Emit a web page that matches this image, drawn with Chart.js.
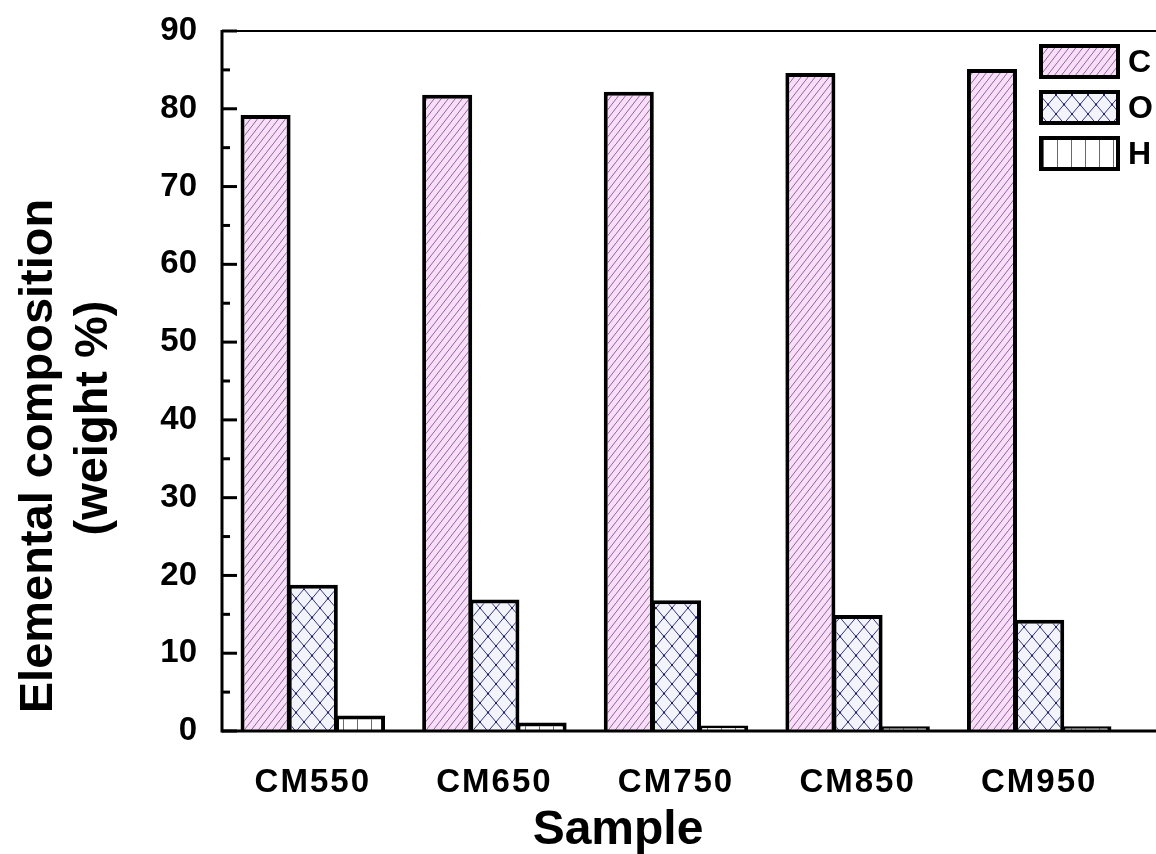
<!DOCTYPE html>
<html>
<head>
<title>Elemental composition</title>
<script src="https://cdn.jsdelivr.net/npm/chart.js"></script>
<style>
  body { margin: 0; background: #fff; overflow: hidden; }
</style>
</head>
<body>
<canvas id="compChart" width="1156" height="854"></canvas>
<script>
var samples = ['CM550', 'CM650', 'CM750', 'CM850', 'CM950'];
var carbon = [79.2, 81.8, 82.2, 84.6, 85.1];
var oxygen = [18.8, 16.9, 16.8, 14.9, 14.3];
var hydrogen = [2.0, 1.1, 0.7, 0.6, 0.6];
var yMin = 0, yMax = 90, yStep = 5;
var yTitle = ['Elemental composition', '(weight %)'];
var xTitle = 'Sample';

var FONT = "'Liberation Sans', Arial, sans-serif";

// fill patterns for the three elements
function makePattern(w, h, draw) {
  var c = document.createElement('canvas');
  c.width = w; c.height = h;
  var g = c.getContext('2d');
  draw(g, w, h);
  return document.getElementById('compChart').getContext('2d').createPattern(c, 'repeat');
}

var hatchC = makePattern(7, 9, function (g, w, h) {
  g.fillStyle = '#f8dff8';
  g.fillRect(0, 0, w, h);
  g.strokeStyle = '#9a5ea2';
  g.lineWidth = 1;
  g.beginPath();
  g.moveTo(-w, 2 * h); g.lineTo(2 * w, -h);
  g.moveTo(-2 * w, 2 * h); g.lineTo(w, -h);
  g.moveTo(0, 3 * h); g.lineTo(3 * w, 0);
  g.stroke();
});

var hatchO = makePattern(16, 19, function (g, w, h) {
  g.fillStyle = '#f3f3fb';
  g.fillRect(0, 0, w, h);
  g.strokeStyle = '#34347e';
  g.lineWidth = 1;
  g.beginPath();
  g.moveTo(0, 0); g.lineTo(w, h);
  g.moveTo(0, h); g.lineTo(w, 0);
  g.stroke();
  g.fillStyle = '#1e1e70';
  g.fillRect(w / 2 - 1, h / 2 - 1, 2, 2);
  g.fillRect(0, 0, 1, 1); g.fillRect(w - 1, 0, 1, 1);
  g.fillRect(0, h - 1, 1, 1); g.fillRect(w - 1, h - 1, 1, 1);
});

var hatchH = makePattern(14, 2, function (g, w, h) {
  g.fillStyle = '#ffffff';
  g.fillRect(0, 0, w, h);
  g.fillStyle = '#c4424a';
  g.fillRect(7, 0, 1, h);
});

// x labels are drawn after the bars (z: 1), with a little tracking
var tracking = {
  id: 'tracking',
  beforeDraw: function (chart) { chart.ctx.letterSpacing = '0px'; },
  afterDatasetsDraw: function (chart) { chart.ctx.letterSpacing = '2px'; }
};

// axis lines with inward ticks, frame lines running to the edge, titles, legend
var frame = {
  id: 'frame',
  afterDraw: function (chart) {
    var ctx = chart.ctx, a = chart.chartArea, y = chart.scales.y;
    ctx.save();
    ctx.letterSpacing = '0px';
    ctx.strokeStyle = '#000';
    ctx.lineWidth = 3;
    ctx.beginPath();
    ctx.moveTo(a.left, a.top - 1);
    ctx.lineTo(a.left, a.bottom + 1.5);
    ctx.stroke();
    ctx.beginPath();
    ctx.moveTo(a.left, a.bottom);
    ctx.lineTo(chart.width, a.bottom);
    ctx.stroke();
    y.ticks.forEach(function (t) {
      var py = y.getPixelForValue(t.value);
      var len = t.value % 10 === 0 ? 15 : 8;
      ctx.beginPath();
      ctx.moveTo(a.left, py);
      ctx.lineTo(a.left + len, py);
      ctx.stroke();
    });
    ctx.lineWidth = 2;
    ctx.beginPath();
    ctx.moveTo(a.left - 1, a.top);
    ctx.lineTo(chart.width, a.top);
    ctx.stroke();

    ctx.fillStyle = '#000';
    ctx.font = 'bold 47px ' + FONT;
    ctx.textAlign = 'center';
    ctx.textBaseline = 'alphabetic';
    ctx.save();
    ctx.translate(52, 456);
    ctx.rotate(-Math.PI / 2);
    ctx.fillText(yTitle[0], 0, 0);
    ctx.restore();
    ctx.save();
    ctx.translate(107, 418);
    ctx.rotate(-Math.PI / 2);
    ctx.fillText(yTitle[1], 0, 0);
    ctx.restore();

    ctx.font = 'bold 48px ' + FONT;
    ctx.textBaseline = 'middle';
    ctx.fillText(xTitle, 618, 831);

    ctx.font = 'bold 32px ' + FONT;
    ctx.textAlign = 'left';
    chart.data.datasets.forEach(function (ds, i) {
      var bx = a.right - 89, by = a.top + 15 + i * 46;
      ctx.fillStyle = ds.backgroundColor;
      ctx.fillRect(bx, by, 77, 31);
      ctx.lineWidth = 4;
      ctx.strokeRect(bx, by, 77, 31);
      ctx.fillStyle = '#000';
      ctx.fillText(ds.label, bx + 87, by + 17);
    });
    ctx.restore();
  }
};

new Chart(document.getElementById('compChart'), {
  type: 'bar',
  data: {
    labels: samples,
    datasets: [
      { label: 'C', data: carbon, backgroundColor: hatchC },
      { label: 'O', data: oxygen, backgroundColor: hatchO },
      { label: 'H', data: hydrogen, backgroundColor: hatchH }
    ]
  },
  options: {
    responsive: false,
    animation: false,
    events: [],
    layout: { padding: { top: 31, right: 26, left: 0, bottom: 0 } },
    datasets: {
      bar: {
        borderColor: '#000',
        borderWidth: 4,
        borderSkipped: 'start',
        categoryPercentage: 0.78,
        barPercentage: 1.06
      }
    },
    plugins: {
      legend: { display: false },
      tooltip: { enabled: false }
    },
    scales: {
      x: {
        offset: true,
        grid: { display: false },
        border: { display: false },
        ticks: { z: 1, color: '#000', padding: 24, font: { family: FONT, size: 33, weight: 'bold' } },
        afterFit: function (s) {
          s.height = 123;
          s.paddingLeft = 0; s.paddingRight = 0;
        }
      },
      y: {
        min: yMin,
        max: yMax,
        grid: { display: false },
        border: { display: false },
        ticks: {
          stepSize: yStep,
          autoSkip: false,
          color: '#000',
          padding: 17,
          font: { family: FONT, size: 33, weight: 'bold' },
          callback: function (v) { return v % 10 === 0 ? v : ''; }
        },
        afterFit: function (s) {
          s.width = 222;
          s.paddingTop = 0; s.paddingBottom = 0;
        }
      }
    }
  },
  plugins: [tracking, frame]
});
</script>
</body>
</html>
